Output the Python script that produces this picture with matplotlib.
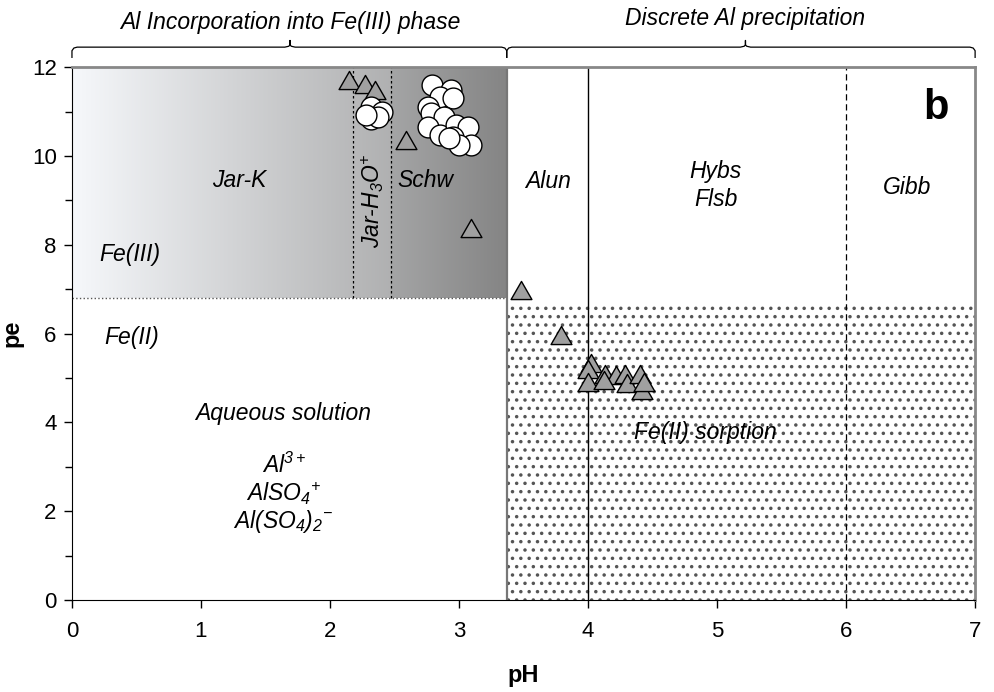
import numpy as np
import matplotlib
matplotlib.use("Agg")
import matplotlib.pyplot as plt
from matplotlib.path import Path

plt.rcParams['font.family'] = ['Liberation Sans', 'DejaVu Sans']
plt.rcParams['mathtext.fontset'] = 'custom'
plt.rcParams['mathtext.it'] = 'Liberation Sans:italic'
plt.rcParams['mathtext.rm'] = 'Liberation Sans:italic'
plt.rcParams['hatch.color'] = '#555555'
plt.rcParams['hatch.linewidth'] = 1.3

# Donnees
tri_ph = [2.15, 2.27, 2.35, 2.59, 3.09, 3.48, 3.79,
          4.02, 4.00, 4.00, 4.13, 4.22, 4.29, 4.30, 4.40, 4.42, 4.12, 4.43]
tri_pe = [11.70, 11.63, 11.48, 10.36, 8.37, 6.98, 5.97,
          5.33, 5.20, 4.90, 5.10, 5.07, 5.10, 4.88, 5.10, 4.73, 4.95, 4.90]

circ_ph = [2.32, 2.40, 2.32, 2.37, 2.28,
           2.79, 2.94, 2.85, 2.95, 2.76, 2.78, 2.88, 2.76, 2.85, 2.98,
           3.07, 2.95, 3.09, 3.00, 2.92]
circ_pe = [11.10, 11.00, 10.84, 10.88, 10.92,
           11.60, 11.48, 11.33, 11.30, 11.10, 10.96, 10.88, 10.65, 10.47, 10.69,
           10.65, 10.43, 10.24, 10.24, 10.40]

fe_boundary = 6.8      # pe Fe(III)/Fe(II)
sorption_top = 6.7
al_boundary = 3.37     # pH limite incorporation / precipitation
jar_lines = [2.18, 2.47]
alun_line = 4.0
gibb_line = 6.0

fig = plt.figure(figsize=(9.94, 6.92), dpi=100)
ax = fig.add_axes([0.0724, 0.133, 0.9086, 0.770])
ax.set_xlim(0, 7)
ax.set_ylim(0, 12)

# degrade gris de la zone Fe(III)
xs = np.linspace(0, al_boundary, 400)
g = np.where(xs < jar_lines[1],
             np.interp(xs, [0, jar_lines[1]], [0.965, 0.69]),
             np.interp(xs, [jar_lines[1], al_boundary], [0.645, 0.52]))
rgb = np.stack([g, g + 0.008 * (1 - xs / al_boundary), g + 0.02 * (1 - xs / al_boundary)], axis=-1)
rgb = np.clip(rgb, 0, 1)[None, :, :]
ax.imshow(rgb, extent=[0, al_boundary, fe_boundary, 12], aspect='auto', zorder=0, interpolation='bilinear')

# zone de sorption pointillee
ax.fill_between([al_boundary, 7], 0, sorption_top, facecolor='white', edgecolor='none',
                hatch='..', zorder=0.5)

ax.plot([0, al_boundary], [fe_boundary, fe_boundary], ls=':', color='#555555', lw=1, zorder=1)
for xl in jar_lines:
    ax.plot([xl, xl], [fe_boundary, 12], ls=(0, (2, 2)), color='black', lw=0.9, zorder=1)
ax.plot([al_boundary, al_boundary], [0, 12], color='#777777', lw=1.6, zorder=1)
ax.plot([alun_line, alun_line], [0, 12], color='black', lw=1, zorder=1)
ax.plot([gibb_line, gibb_line], [0, 12], ls=(0, (5, 3)), color='black', lw=0.9, zorder=1)

tri = Path([(-1, -0.87), (1, -0.87), (0, 0.87), (-1, -0.87)],
           [Path.MOVETO, Path.LINETO, Path.LINETO, Path.CLOSEPOLY])
ax.plot(tri_ph, tri_pe, ls='none', marker=tri, ms=15, mfc='#a0a0a0', mec='black', mew=1, zorder=3)
ax.plot(circ_ph, circ_pe, ls='none', marker='o', ms=15, mfc='white', mec='black', mew=1, zorder=4)

# etiquettes
lab = dict(fontsize=16.5, style='italic', ha='center', va='center', zorder=5)
ax.text(1.30, 9.45, 'Jar-K', **lab)
ax.text(0.45, 7.77, 'Fe(III)', **lab)
ax.text(0.46, 5.92, 'Fe(II)', **lab)
ax.text(1.64, 4.20, 'Aqueous solution', **lab)
ax.text(1.64, 3.04, r'Al$^{3+}$', **lab)
ax.text(1.64, 2.39, r'AlSO$_4$$^{+}$', **lab)
ax.text(1.64, 1.76, r'Al(SO$_4$)$_2$$^{-}$', **lab)
ax.text(2.33, 9.0, r'Jar-H$_3$O$^{+}$', rotation=90, **lab)
ax.text(2.74, 9.45, 'Schw', **lab)
ax.text(3.69, 9.43, 'Alun', **lab)
ax.text(4.99, 9.66, 'Hybs', **lab)
ax.text(4.99, 9.03, 'Flsb', **lab)
ax.text(6.47, 9.30, 'Gibb', **lab)
ax.text(4.91, 3.78, 'Fe(II) sorption', **lab)
ax.text(6.7, 11.07, 'b', fontsize=30, fontweight='bold', ha='center', va='center', zorder=5)

# accolades du haut
def bracket(x0, x1, xc):
    yb, ye, yt = 12.45, 12.22, 12.6
    ax.plot([x0, x0, x0 + 0.015, x0 + 0.04, xc - 0.04, xc - 0.01, xc, xc, xc, xc + 0.01, xc + 0.04,
             x1 - 0.04, x1 - 0.015, x1, x1],
            [ye, yb - 0.08, yb - 0.02, yb, yb, yb + 0.02, yb + 0.05, yt, yb + 0.05, yb + 0.02, yb,
             yb, yb - 0.02, yb - 0.08, ye],
            color='black', lw=0.9, clip_on=False)

bracket(0, al_boundary, 1.69)
bracket(al_boundary, 7, 5.22)
top = dict(fontsize=16.5, style='italic', ha='center', va='center')
ax.text(1.69, 13.0, 'Al Incorporation into Fe(III) phase', clip_on=False, **top)
ax.text(5.22, 13.1, 'Discrete Al precipitation', clip_on=False, **top)

# axes
ax.set_xticks(range(0, 8))
ax.set_yticks(range(0, 13, 2))
ax.set_yticks(range(1, 12, 2), minor=True)
ax.tick_params(axis='both', which='both', direction='out', length=6, width=1, labelsize=16, pad=5)
ax.tick_params(axis='x', pad=9)
ax.tick_params(axis='y', which='minor', length=5)
ax.spines['top'].set_color('#888888')
ax.spines['right'].set_color('#888888')
ax.spines['top'].set_linewidth(2)
ax.spines['right'].set_linewidth(2)
ax.set_xlabel('pH', fontsize=17, fontweight='bold', labelpad=16)
ax.set_ylabel('pe', fontsize=17, fontweight='bold', labelpad=6)

plt.savefig('out.png', dpi=100)
